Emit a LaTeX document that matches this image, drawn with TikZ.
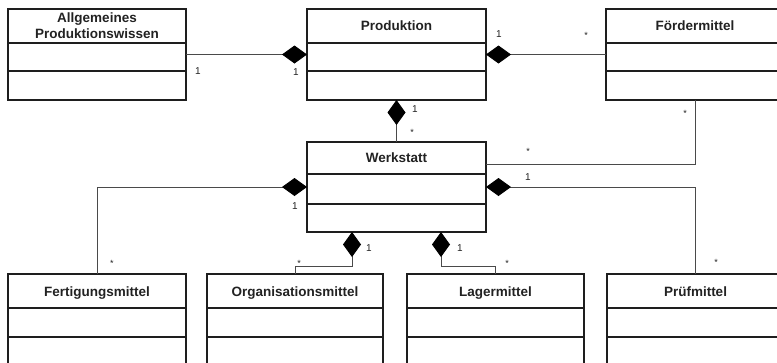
\documentclass[tikz,border=0pt]{standalone}
\usepackage{fontspec}
\setmainfont{Liberation Sans}
\usetikzlibrary{arrows.meta}
\definecolor{boxcol}{HTML}{1E1E1E}
\definecolor{conncol}{HTML}{4A4A4A}
\definecolor{txtcol}{HTML}{222222}
\begin{document}
\begin{tikzpicture}[x=1pt,y=-1pt,
  cls/.style={draw=boxcol, line width=1.3pt, inner sep=0pt, outer sep=0pt,
              anchor=north west, minimum width=178pt, minimum height=91pt},
  sep/.style={draw=boxcol, line width=1.3pt},
  title/.style={anchor=base, inner sep=0pt, text=txtcol,
                font=\fontsize{13.5}{16}\selectfont\bfseries},
  conn/.style={draw=conncol, line width=0.9pt},
  comp/.style={conn, {Diamond[length=25pt,width=18pt,color=black,fill=black]}-},
  one/.style={anchor=base, inner sep=0pt, text=txtcol, font=\fontsize{10}{12}\selectfont},
  many/.style={anchor=base, inner sep=0pt, text=txtcol, font=\fontsize{9}{10}\selectfont},
]
\useasboundingbox (0,0) rectangle (777,362);
\clip (0,0) rectangle (777,362);

% ---- classes: name compartment, attributes, operations ----
\node[cls] (allg) at (8,9) {};
\draw[sep] (allg.west |- 0,43) -- (allg.east |- 0,43);
\draw[sep] (allg.west |- 0,71) -- (allg.east |- 0,71);
\node[title] (allg-t1) at (allg.north |- 0,22) {Allgemeines};
\node[title] (allg-t2) at (allg.north |- 0,38) {Produktionswissen};

\node[cls, minimum width=179pt] (prod) at (307,9) {};
\draw[sep] (prod.west |- 0,43) -- (prod.east |- 0,43);
\draw[sep] (prod.west |- 0,71) -- (prod.east |- 0,71);
\node[title] (prod-t) at (prod.north |- 0,30.5) {Produktion};

\node[cls] (foerd) at (606,9) {};
\draw[sep] (foerd.west |- 0,43) -- (foerd.east |- 0,43);
\draw[sep] (foerd.west |- 0,71) -- (foerd.east |- 0,71);
\node[title] (foerd-t) at (foerd.north |- 0,30.5) {Fördermittel};

\node[cls, minimum width=179pt, minimum height=90pt] (werk) at (307,142) {};
\draw[sep] (werk.west |- 0,174) -- (werk.east |- 0,174);
\draw[sep] (werk.west |- 0,204) -- (werk.east |- 0,204);
\node[title] (werk-t) at (werk.north |- 0,162.5) {Werkstatt};

\node[cls] (fert) at (8,274) {};
\draw[sep] (fert.west |- 0,308) -- (fert.east |- 0,308);
\draw[sep] (fert.west |- 0,337) -- (fert.east |- 0,337);
\node[title] (fert-t) at (fert.north |- 0,296) {Fertigungsmittel};

\node[cls, minimum width=176pt] (org) at (207,274) {};
\draw[sep] (org.west |- 0,308) -- (org.east |- 0,308);
\draw[sep] (org.west |- 0,337) -- (org.east |- 0,337);
\node[title] (org-t) at (org.north |- 0,296) {Organisationsmittel};

\node[cls, minimum width=177pt] (lager) at (407,274) {};
\draw[sep] (lager.west |- 0,308) -- (lager.east |- 0,308);
\draw[sep] (lager.west |- 0,337) -- (lager.east |- 0,337);
\node[title] (lager-t) at (lager.north |- 0,296) {Lagermittel};

\node[cls, minimum width=177pt] (pruef) at (607,274) {};
\draw[sep] (pruef.west |- 0,308) -- (pruef.east |- 0,308);
\draw[sep] (pruef.west |- 0,337) -- (pruef.east |- 0,337);
\node[title] (pruef-t) at (pruef.north |- 0,296) {Prüfmittel};

% ---- compositions and associations ----
\draw[comp] (prod.west) -- (allg.east);
\draw[comp] (prod.east) -- (foerd.west);
\draw[comp] (prod.south) -- (werk.north);
\draw[conn] (foerd.south) |- ([yshift=23pt]werk.east);
\draw[comp] (werk.east) -| (pruef.north);
\draw[comp] (werk.west) -| (fert.north);
\draw[comp] ([xshift=-44.5pt]werk.south) -- ++(0,34) -| (org.north);
\draw[comp] ([xshift=44.5pt]werk.south) -- ++(0,34) -| (lager.north);

% ---- multiplicities ----
\node[one]  (m-allg)   at (198,74)    {1};
\node[one]  (m-prodw)  at (296,75)    {1};
\node[one]  (m-prode)  at (499,37)    {1};
\node[many] (m-foerdw) at (586,38)    {*};
\node[one]  (m-prods)  at (415,112)   {1};
\node[many] (m-werkn)  at (412,135)   {*};
\node[many] (m-foerds) at (685,116)   {*};
\node[many] (m-werke1) at (528,154)   {*};
\node[one]  (m-werke2) at (528,180)   {1};
\node[one]  (m-werkw)  at (295,209)   {1};
\node[many] (m-fert)   at (112,266)   {*};
\node[one]  (m-werks1) at (369,251)   {1};
\node[many] (m-org)    at (299,266)   {*};
\node[one]  (m-werks2) at (460,251)   {1};
\node[many] (m-lager)  at (507,266)   {*};
\node[many] (m-pruef)  at (716,265)   {*};
\end{tikzpicture}
\end{document}
